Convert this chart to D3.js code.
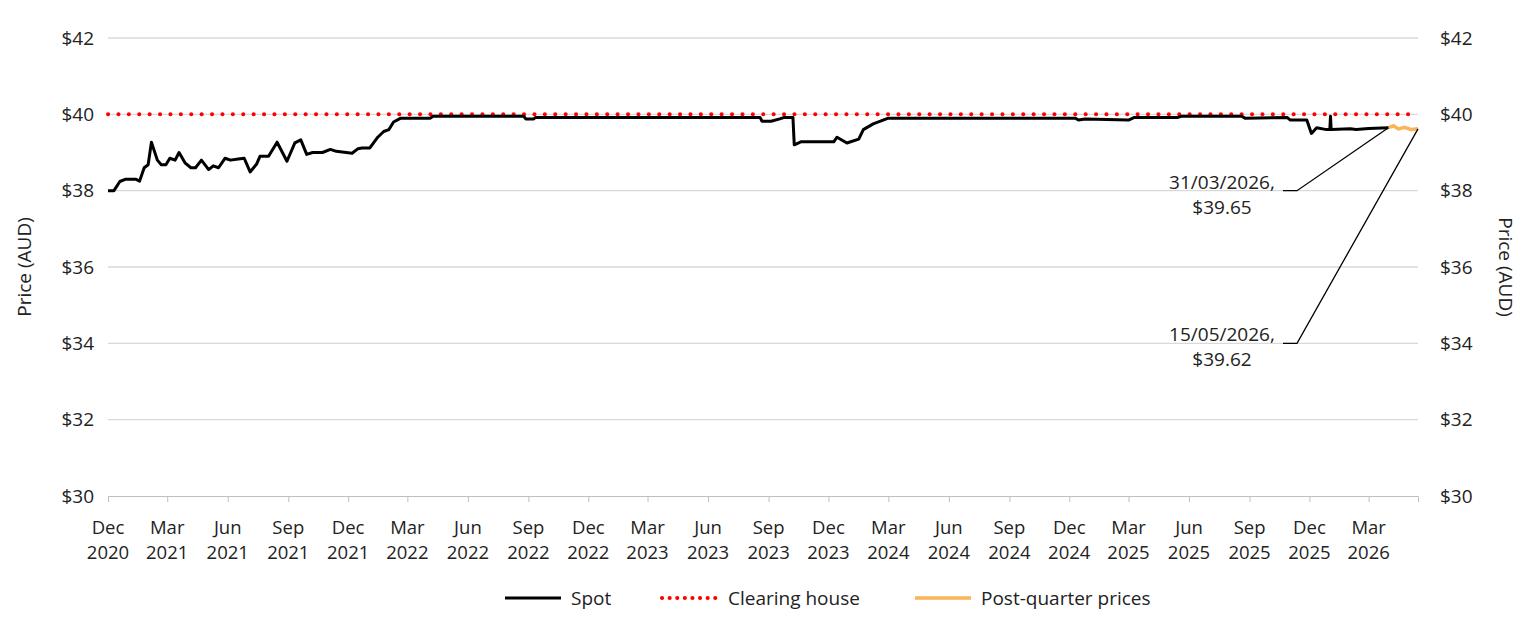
<!DOCTYPE html>
<html><head><meta charset="utf-8">
<script src="https://cdn.jsdelivr.net/npm/d3@7"></script>
<style>body{margin:0;background:#fff}text{font-family:"Open Sans",sans-serif;fill:#222}</style>
</head><body><div id="chart"></div>
<script>
// spot prices
const spotDates = ["2020-12-01","2020-12-10","2020-12-19","2020-12-28","2021-01-12","2021-01-18","2021-01-25","2021-01-31","2021-02-05","2021-02-14","2021-02-20","2021-02-27","2021-03-05","2021-03-13","2021-03-19","2021-03-28","2021-04-06","2021-04-13","2021-04-22","2021-05-03","2021-05-10","2021-05-18","2021-05-28","2021-06-05","2021-06-17","2021-06-26","2021-07-05","2021-07-15","2021-07-20","2021-08-02","2021-08-15","2021-08-30","2021-09-11","2021-09-20","2021-09-29","2021-10-08","2021-10-23","2021-11-04","2021-11-13","2021-11-28","2021-12-07","2021-12-16","2021-12-22","2022-01-03","2022-01-15","2022-01-24","2022-02-01","2022-02-08",
  "2022-02-19","2022-04-05","2022-04-09","2022-08-25","2022-08-28","2022-09-09","2022-09-12","2023-08-19","2023-08-22","2023-09-05","2023-09-18","2023-09-25","2023-10-08","2023-10-10","2023-10-20","2023-12-09","2023-12-14","2023-12-29","2024-01-16","2024-01-23","2024-02-07","2024-03-01",
  "2024-12-10","2024-12-15","2024-12-25","2025-03-01","2025-03-10","2025-05-15","2025-05-20","2025-08-20","2025-08-25","2025-10-28","2025-11-02","2025-11-27","2025-12-04","2025-12-12","2025-12-27","2026-01-01","2026-01-02","2026-01-03","2026-02-01","2026-02-10","2026-03-01","2026-03-31"];
const spotValues = [38.0,38.0,38.24,38.3,38.3,38.25,38.6,38.68,39.27,38.8,38.68,38.68,38.85,38.8,39.0,38.73,38.6,38.6,38.8,38.55,38.65,38.6,38.85,38.8,38.83,38.85,38.49,38.7,38.9,38.9,39.27,38.77,39.25,39.33,38.95,39.0,39.0,39.08,39.03,39.0,38.98,39.1,39.12,39.12,39.4,39.55,39.6,39.8,
  39.9,39.9,39.95,39.95,39.88,39.88,39.92,39.92,39.82,39.82,39.88,39.92,39.92,39.2,39.28,39.28,39.4,39.25,39.35,39.6,39.75,39.9,
  39.9,39.85,39.88,39.85,39.92,39.92,39.95,39.95,39.9,39.92,39.85,39.85,39.5,39.65,39.6,39.6,39.95,39.6,39.62,39.6,39.63,39.65];
const postDates = ["2026-03-31","2026-04-08","2026-04-15","2026-04-25","2026-05-05","2026-05-15"];
const postValues = [39.65,39.7,39.62,39.66,39.6,39.62];
const clearingPrice = 40;
const yTicks = [30,32,34,36,38,40,42];
const notes = [
  {date:"2026-03-31", value:39.65, lines:["31/03/2026,","$39.65"], at:38},
  {date:"2026-05-15", value:39.62, lines:["15/05/2026,","$39.62"], at:34}
];

const W = 1529, H = 619;
const m = {l:108, r:111, t:38, b:123};
const parse = d3.timeParse("%Y-%m-%d");
const spot = spotDates.map((d,i)=>({d:parse(d), v:spotValues[i]}));
const post = postDates.map((d,i)=>({d:parse(d), v:postValues[i]}));

const x = d3.scaleTime().domain([parse("2020-12-01"), parse("2026-05-15")]).range([m.l, W-m.r]);
const y = d3.scaleLinear().domain([30,42]).range([H-m.b, m.t]);

const svg = d3.select("#chart").append("svg").attr("width",W).attr("height",H);

svg.append("g").selectAll("line").data(yTicks.slice(1)).join("line")
  .attr("x1",m.l).attr("x2",W-m.r).attr("y1",d=>y(d)).attr("y2",d=>y(d))
  .attr("stroke","#d9d9d9").attr("stroke-width",1.3);

const fmt = d=>"$"+d;
svg.append("g").selectAll("text").data(yTicks).join("text")
  .attr("x",m.l-14).attr("y",d=>y(d)).attr("dy","0.35em").attr("text-anchor","end")
  .attr("font-size",19).text(fmt);
svg.append("g").selectAll("text").data(yTicks).join("text")
  .attr("x",W-m.r+22).attr("y",d=>y(d)).attr("dy","0.35em")
  .attr("font-size",19).text(fmt);

// x axis: quarterly ticks from Dec 2020
const qTicks = d3.range(22).map(i=>d3.timeMonth.offset(parse("2020-12-01"), 3*i));
const xa = svg.append("g").attr("transform",`translate(0,${H-m.b})`)
  .call(d3.axisBottom(x).tickValues(qTicks).tickSize(6).tickFormat(""));
xa.select(".domain").attr("stroke","#bfbfbf");
xa.selectAll(".tick line").attr("stroke","#bfbfbf");
const fm = d3.timeFormat("%b"), fy = d3.timeFormat("%Y");
const lab = svg.append("g").selectAll("text").data(qTicks).join("text")
  .attr("text-anchor","middle").attr("font-size",18.5);
lab.append("tspan").attr("x",d=>x(d)).attr("y",H-m.b+38).text(fm);
lab.append("tspan").attr("x",d=>x(d)).attr("y",H-m.b+63).text(fy);

svg.append("text").attr("transform",`translate(31,${y(36)}) rotate(-90)`)
  .attr("text-anchor","middle").attr("font-size",19).text("Price (AUD)");
svg.append("text").attr("transform",`translate(${W-30},${y(36)}) rotate(90)`)
  .attr("text-anchor","middle").attr("font-size",19).text("Price (AUD)");

const line = d3.line().x(d=>x(d.d)).y(d=>y(d.v));
svg.append("line").attr("x1",m.l).attr("x2",W-m.r).attr("y1",y(clearingPrice)).attr("y2",y(clearingPrice))
  .attr("stroke","#ff0000").attr("stroke-width",4).attr("stroke-linecap","round").attr("stroke-dasharray","0.1 10.3");
svg.append("path").datum(post).attr("d",line).attr("fill","none").attr("stroke","#f9b55a").attr("stroke-width",3.5);
svg.append("path").datum(spot).attr("d",line).attr("fill","none").attr("stroke","#000").attr("stroke-width",3).attr("stroke-linejoin","round");

// callouts
notes.forEach(n=>{
  const py = y(n.at);
  svg.append("polyline").attr("points",`1283,${py} 1297,${py} ${x(parse(n.date))},${y(n.value)}`)
    .attr("fill","none").attr("stroke","#000").attr("stroke-width",1.3);
  const t = svg.append("text").attr("text-anchor","middle").attr("font-size",19);
  n.lines.forEach((s,i)=>t.append("tspan").attr("x",1222).attr("y",py-2+i*25).text(s));
});

// legend
const leg = [
  {name:"Spot", color:"#000", dash:null, w:3},
  {name:"Clearing house", color:"#ff0000", dash:"0.1 7.5", w:4},
  {name:"Post-quarter prices", color:"#f9b55a", dash:null, w:3.5}
];
const lx = [505, 662, 915];
leg.forEach((d,i)=>{
  const g = svg.append("g").attr("transform",`translate(${lx[i]},598)`);
  g.append("line").attr("x1",0).attr("x2",56).attr("stroke",d.color).attr("stroke-width",d.w)
    .attr("stroke-linecap",d.dash?"round":"butt").attr("stroke-dasharray",d.dash);
  g.append("text").attr("x",66).attr("dy","0.35em").attr("font-size",19).text(d.name);
});
</script></body></html>
